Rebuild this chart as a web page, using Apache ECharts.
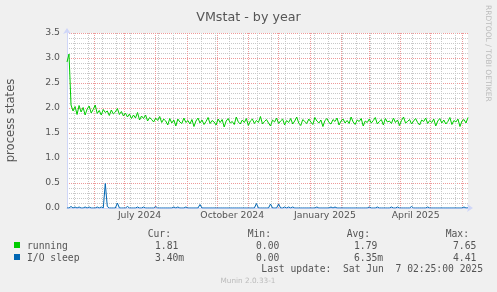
<!DOCTYPE html>
<html><head><meta charset="utf-8">
<script src="https://cdn.jsdelivr.net/npm/echarts@6/dist/echarts.min.js"></script>
<style>html,body{margin:0;padding:0;background:#F0F0F0}#c{width:497px;height:292px}</style>
</head><body><div id="c"></div><script>
// ---- data ----
const startDay = '2024-05-05';
const endDay = '2025-06-07';
const stepDays = 2;
const running = [
 2.92,3.08,2.06,1.94,2.03,1.87,2.05,1.92,2.01,1.86,1.98,2.04,1.90,1.97,2.06,1.89,1.95,1.86,1.97,1.91,
 1.94,1.85,1.96,1.88,1.92,1.99,1.87,1.93,1.84,1.90,1.82,1.88,1.79,1.86,1.80,1.91,1.76,1.84,1.79,1.86,
 1.74,1.81,1.77,1.72,1.80,1.75,1.83,1.71,1.78,1.74,
 1.66,1.79,1.70,1.76,1.64,1.78,1.72,1.69,1.80,1.71,1.75,1.68,1.77,1.63,1.74,1.80,1.70,1.76,1.67,1.73,
 1.81,1.69,1.75,1.72,1.66,1.78,1.71,1.77,1.62,1.74,1.79,1.70,1.73,1.67,1.82,1.72,1.68,1.76,1.71,1.79,
 1.65,1.74,1.78,1.69,1.75,1.71,1.83,1.68,1.73,1.77,1.70,1.64,1.76,1.72,1.80,1.69,1.74,1.78,1.66,1.75,
 1.71,1.79,1.68,1.74,1.82,1.70,1.65,1.77,1.73,1.69,1.78,1.72,1.67,1.81,1.74,1.70,1.76,1.63,1.75,1.79,
 1.71,1.68,1.77,1.73,1.80,1.66,1.74,1.78,1.70,1.75,1.69,1.82,1.72,1.67,1.76,1.73,1.79,1.64,1.74,1.71,
 1.78,1.70,1.75,1.81,1.68,1.73,1.77,1.66,1.79,1.72,1.74,1.69,1.80,1.71,1.76,1.65,1.75,1.82,1.70,1.73,
 1.77,1.68,1.74,1.79,1.71,1.66,1.76,1.73,1.80,1.69,1.75,1.71,1.78,1.64,1.74,1.79,1.70,1.76,1.68,1.73,
 1.81,1.67,1.75,1.72,1.78,1.63,1.74,1.77,1.70,1.81
];
const ioSleep = [
 0,0,0.03,0,0.02,0,0.02,0,0,0.02,0,0.02,0,0,0,0.02,0,0.02,0,0.49,
 0.03,0,0,0,0,0.10,0,0,0,0,0.03,0,0,0,0,0.02,0,0,0.02,0,
 0,0,0,0,0.03,0,0,0,0,0,0,0,0,0.02,0,0.02,0,0,0,0.02,
 0,0,0,0,0,0,0.07,0,0,0,0,0,0,0,0,0,0,0,0,0,
 0,0,0,0,0,0,0,0,0,0,0,0,0,0,0.09,0,0,0,0,0,
 0,0.08,0,0,0,0.08,0,0,0.02,0,0.02,0,0.02,0,0,0,0,0,0,0,
 0,0,0,0,0.02,0,0,0,0,0,0,0.02,0,0.02,0,0,0,0,0,0,
 0,0,0,0,0,0,0,0,0,0,0.02,0,0,0,0.02,0,0,0,0,0,
 0,0.02,0,0,0.02,0,0,0,0,0,0,0.03,0,0,0,0,0,0,0,0.02,
 0,0,0,0,0,0,0,0,0,0,0,0,0,0,0,0,0,0.02,0,0.0034
];
const seriesNames = ['running', 'I/O sleep'];
const xTickDates = ['2024-07-16', '2024-10-16', '2025-01-16', '2025-04-16'];
const xTickLabels = ['July 2024', 'October 2024', 'January 2025', 'April 2025'];
const monthLineDates = ['2024-06-01','2024-07-01','2024-08-01','2024-09-01','2024-10-01','2024-11-01','2024-12-01',
 '2025-01-01','2025-02-01','2025-03-01','2025-04-01','2025-05-01','2025-06-01'];
const firstWeekLine = '2024-05-12';
const weekLineStepDays = 14;
const statHeaders = ['Cur:', 'Min:', 'Avg:', 'Max:'];
const runningStats = ['1.81', '0.00', '1.79', '7.65'];
const ioSleepStats = ['3.40m', '0.00', '6.35m', '4.41'];
const lastUpdate = 'Last update:  Sat Jun  7 02:25:00 2025';
const yMin = 0, yMax = 3.5, yStep = 0.5, yMinorStep = 0.1;

// ---- helpers ----
const DAY = 86400000;
function ts(s){ const p = s.split('-').map(Number); return Date.UTC(p[0], p[1]-1, p[2]); }
const t0 = ts(startDay), tEnd = ts(endDay);
const runData = running.map((v,i)=>[t0 + i*stepDays*DAY, v]);
const ioData = ioSleep.map((v,i)=>[t0 + i*stepDays*DAY, v]);
const xTickTimes = xTickDates.map(ts);
const monthTimes = monthLineDates.map(ts);
const weekLines = [];
for (let t = ts(firstWeekLine); t < tEnd; t += weekLineStepDays*DAY) weekLines.push(t);

const FONT = '"DejaVu Sans", sans-serif';
const MONO = '"DejaVu Sans Mono", monospace';
const TXT = '#555';
const RED = '#EE9999';
const GRAY = '#C8C8C8';

const legendCols = [{hx:171, vx:155},{hx:271, vx:256},{hx:370, vx:354},{hx:469, vx:453}];
const graphic = [];
statHeaders.forEach((h,i)=>graphic.push({type:'text', x:legendCols[i].hx, y:234,
  style:{text:h, align:'right', verticalAlign:'middle', font:'9.7px '+MONO, fill:TXT}}));
[[runningStats, 246, '#00CC00'], [ioSleepStats, 258, '#0066B3']].forEach((row, r)=>{
  graphic.push({type:'rect', shape:{x:14, y:row[1]-4, width:6, height:6}, style:{fill:row[2]}});
  graphic.push({type:'text', x:27, y:row[1], style:{text:seriesNames[r], align:'left', verticalAlign:'middle', font:'9.7px '+MONO, fill:TXT}});
  row[0].forEach((v,i)=>graphic.push({type:'text', x:legendCols[i].vx, y:row[1],
    style:{text:v, align:'left', verticalAlign:'middle', font:'9.7px '+MONO, fill:TXT}}));
});
graphic.push({type:'text', x:483, y:269.5, style:{text:lastUpdate, align:'right', verticalAlign:'middle', font:'9.7px '+MONO, fill:TXT}});
graphic.push({type:'text', x:248, y:281, style:{text:'Munin 2.0.33-1', align:'center', verticalAlign:'middle', font:'7.3px '+FONT, fill:'#BBBBBB'}});
graphic.push({type:'text', x:488, y:5, rotation:-Math.PI/2, style:{text:'RRDTOOL / TOBI OETIKER', align:'left', verticalAlign:'middle', font:'7.5px '+FONT, fill:'#BBBBBB'}});

function gridXAxis(values, color){
  return {type:'value', min:t0, max:tEnd, position:'bottom',
    axisLine:{show:false}, axisLabel:{show:false},
    axisTick:{show:false, customValues:values},
    splitLine:{show:true, lineStyle:{color:color, type:'dotted', width:1}}};
}

const chart = echarts.init(document.getElementById('c'), null, {renderer:'canvas'});
chart.setOption({
  animation:false,
  backgroundColor:'#F0F0F0',
  title:{text:'VMstat - by year', left:'center', top:6, textStyle:{fontFamily:FONT, fontSize:12.7, fontWeight:'normal', color:TXT}},
  grid:{left:67, right:29, top:33, bottom:84, show:true, backgroundColor:'#FFFFFF', borderWidth:0,
    containLabel:false, outerBoundsMode:'none'},
  xAxis:[
    gridXAxis(weekLines, GRAY),
    gridXAxis(monthTimes, RED),
    {type:'value', min:t0, max:tEnd, position:'bottom',
      axisLine:{show:true, onZero:false, lineStyle:{color:'#CFD6F8', width:1}, symbol:['none','arrow'], symbolSize:[6,6], symbolOffset:[0,5]},
      axisTick:{show:false}, splitLine:{show:false},
      axisLabel:{customValues:xTickTimes, formatter:(v)=>{const k=xTickTimes.indexOf(v); return k>=0?xTickLabels[k]:'';},
        color:TXT, fontFamily:FONT, fontSize:9.3, margin:3, hideOverlap:false}}
  ],
  yAxis:[
    {type:'value', min:yMin, max:yMax, interval:yMinorStep, position:'left',
      axisLine:{show:false}, axisTick:{show:false}, axisLabel:{show:false},
      splitLine:{show:true, lineStyle:{color:GRAY, type:'dotted', width:1}}},
    {type:'value', min:yMin, max:yMax, interval:yStep, position:'left',
      name:'process states', nameLocation:'middle', nameRotate:90, nameGap:50,
      nameTextStyle:{fontFamily:FONT, fontSize:11.6, color:TXT},
      axisLine:{show:true, onZero:false, lineStyle:{color:'#CFD6F8', width:1}, symbol:['none','arrow'], symbolSize:[6,6], symbolOffset:[0,5]},
      axisTick:{show:false},
      axisLabel:{formatter:(v)=>v.toFixed(1), color:TXT, fontFamily:FONT, fontSize:9.3, margin:7},
      splitLine:{show:true, lineStyle:{color:RED, type:'dotted', width:1}}}
  ],
  graphic: graphic,
  series:[
    {name:seriesNames[0], type:'line', xAxisIndex:2, yAxisIndex:1, data:runData, symbol:'none', lineStyle:{color:'#00CC00', width:1}, z:3},
    {name:seriesNames[1], type:'line', xAxisIndex:2, yAxisIndex:1, data:ioData, symbol:'none', lineStyle:{color:'#0066B3', width:1}, z:4}
  ]
});
</script></body></html>
